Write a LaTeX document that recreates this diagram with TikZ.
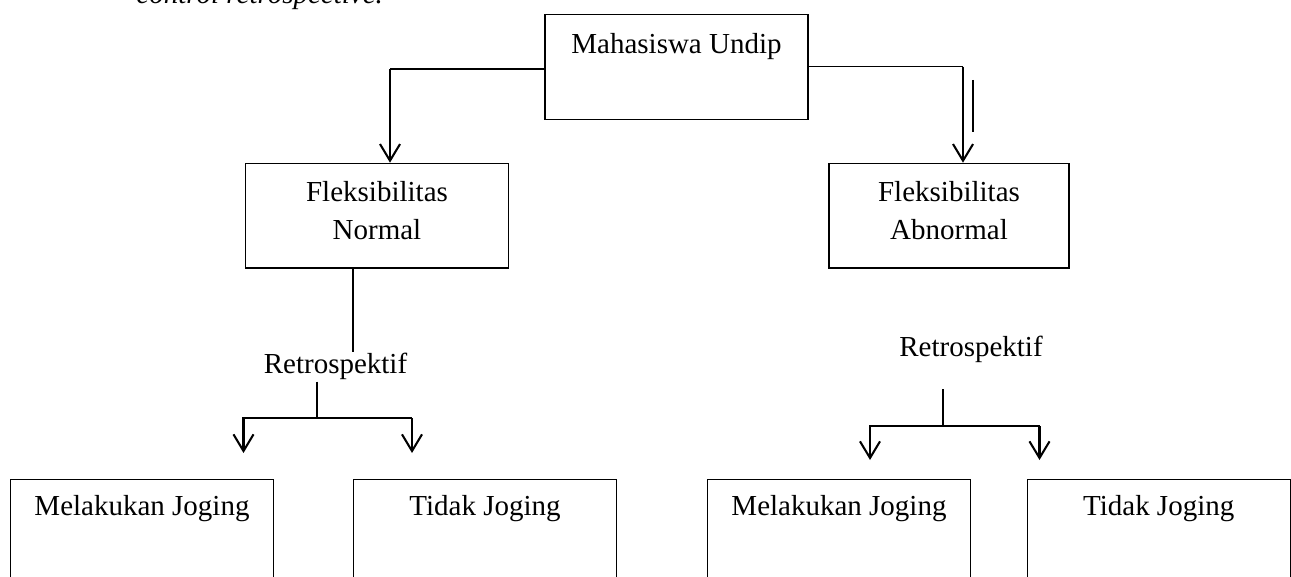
\documentclass[tikz,border=0pt]{standalone}
\usepackage{fontspec}
\setmainfont{Liberation Serif}
\usetikzlibrary{arrows.meta}
\newdimen\pxu
\pxu=0.41379pt

\begin{document}
\begin{tikzpicture}[
  x=0.41379pt,
  y=-0.41379pt,
  every node/.style={font=\fontsize{12}{16}\selectfont},
  box/.style={draw, line width=0.55pt, anchor=north, inner xsep=0pt,
              inner ysep=0pt, minimum width=263\pxu, align=center},
  lbl/.style={inner sep=2\pxu},
  tipis/.style={line width=0.45pt},
  tebal/.style={line width=0.85pt},
  panah/.style={tebal, -{Straight Barb[length=6.9pt, width=8.3pt]}}
]
  \useasboundingbox (0,0) rectangle (1291,576);
  \clip (0,0) rectangle (1291,576);

  %% ---- sisa judul di atas (terpotong) ------------------------------------
  \node[anchor=base west, inner sep=0pt,
        font=\fontsize{12}{16}\selectfont\itshape] (judul) at (136,4)
    {control retrospective.};

  %% ---- kotak-kotak --------------------------------------------------------
  %% kotak dua baris: garis dasar ada di baris terakhir
  \node[box, text height=38.7\pxu, text depth=66\pxu] (mhs) at (676.5,14)
    {Mahasiswa Undip};
  \node[box, text height=76.6\pxu, text depth=28\pxu] (normal) at (377,162.7)
    {Fleksibilitas\\Normal};
  \node[box, minimum width=240\pxu, text height=76.6\pxu, text depth=28\pxu]
    (abnormal) at (949,162.7) {Fleksibilitas\\Abnormal};

  \node[box, text height=36\pxu, text depth=69\pxu] (mjkiri) at (142,479)
    {Melakukan Joging};
  \node[box, text height=36\pxu, text depth=69\pxu] (tjkiri) at (485,479)
    {Tidak Joging};
  \node[box, text height=36\pxu, text depth=69\pxu] (mjkanan) at (839,479)
    {Melakukan Joging};
  \node[box, text height=36\pxu, text depth=69\pxu] (tjkanan) at (1158.7,479)
    {Tidak Joging};

  \node[lbl, anchor=base] (retrokiri) at (335.5,373) {Retrospektif};
  \node[lbl, anchor=base] (retrokanan) at (971,356.7) {Retrospektif};

  %% ---- dari Mahasiswa Undip ke dua kelompok -------------------------------
  \coordinate (sikukiri) at (390,69);
  \coordinate (sikukanan) at (963,66.7);
  \draw[tipis] (mhs.west |- sikukiri) -- (sikukiri);
  \draw[panah] (sikukiri) -- (sikukiri |- normal.north);
  \draw[tipis] (mhs.east |- sikukanan) -- (sikukanan);
  \draw[panah] (sikukanan) -- (sikukanan |- abnormal.north);
  \draw[tipis] (973,80) -- (973,132);

  %% ---- cabang kiri: Normal -> Retrospektif -> dua panah -------------------
  \coordinate (batangkiri) at (353,352);
  \coordinate (garpukiri) at (317,418);
  \coordinate (ujungkiria) at (243.5,453);
  \coordinate (ujungkirib) at (412,453);
  \draw[tipis] (batangkiri |- normal.south) -- (batangkiri);
  \draw[tebal] (garpukiri |- retrokiri.south) -- (garpukiri);
  \draw[panah] (garpukiri) -| (ujungkiria);
  \draw[tipis] (garpukiri) -- (garpukiri -| ujungkirib);
  \draw[panah] (garpukiri -| ujungkirib) -- (ujungkirib);

  %% ---- cabang kanan: Retrospektif -> dua panah ----------------------------
  \coordinate (atasgarpukanan) at (943,389);
  \coordinate (garpukanan) at (943,426);
  \coordinate (ujungkanana) at (870,460);
  \coordinate (ujungkananb) at (1039.5,460);
  \draw[tebal] (atasgarpukanan) -- (garpukanan);
  \draw[panah] (garpukanan) -| (ujungkanana);
  \draw[tipis] (garpukanan) -- (garpukanan -| ujungkananb);
  \draw[panah] (garpukanan -| ujungkananb) -- (ujungkananb);
\end{tikzpicture}
\end{document}
